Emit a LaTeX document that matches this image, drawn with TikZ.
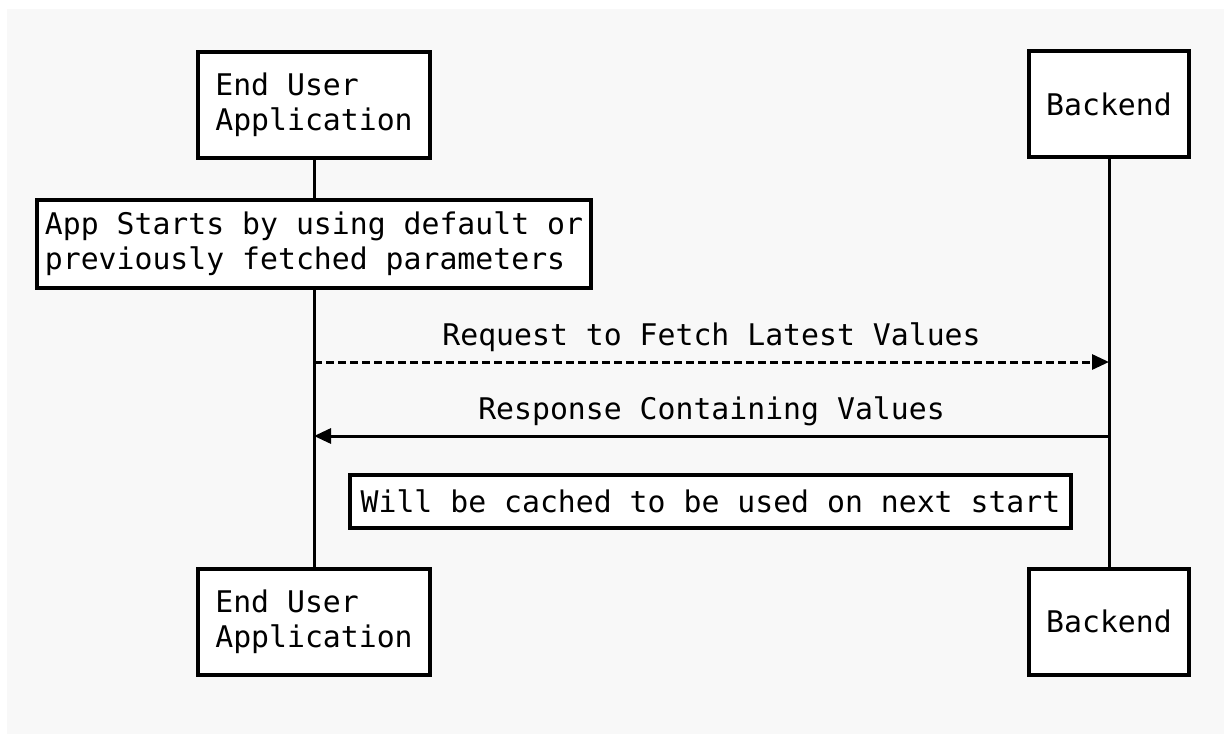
\documentclass[tikz,border=0pt]{standalone}
\usepackage{fontspec}
\setmonofont{DejaVu Sans Mono}
\usetikzlibrary{arrows.meta,backgrounds}
\definecolor{canvas}{HTML}{F8F8F8}

\begin{document}
\begin{tikzpicture}[x=1pt, y=-1pt,
  every node/.style={font=\ttfamily\fontsize{29.8}{35}\selectfont},
  actor/.style={draw, line width=4pt, fill=white, minimum height=106pt, align=left},
  notebox/.style={draw, line width=3.5pt, fill=white, align=left, inner xsep=8pt},
  lifeline/.style={line width=3pt},
  msg/.style={line width=3pt, -{Triangle[length=17pt,width=15pt]}}]
  \useasboundingbox (0,0) rectangle (1224,734);
  % participants
  \node[actor, minimum width=232pt] (app) at (314,105) {End User\\Application};
  \node[actor, minimum width=160pt] (backend) at (1109,104) {Backend};
  \node[actor, minimum width=232pt] (appbot) at (314,621.5) {End User\\Application};
  \node[actor, minimum width=160pt] (backendbot) at (1109,621.5) {Backend};
  % notes
  \node[notebox, minimum width=554pt, minimum height=88pt] (start) at (314,244) {App Starts by using default or\\previously fetched parameters};
  \node[notebox, minimum width=721pt, minimum height=53pt] (cache) at (710.5,501.5) {Will be cached to be used on next start};
  % message ends
  \coordinate (reqA) at (314,362);
  \coordinate (reqB) at (1109,362);
  \coordinate (resA) at (314,436);
  \coordinate (resB) at (1109,436);
  \draw[msg, dash pattern=on 8pt off 4pt] (reqA) -- (reqB) node[midway, yshift=25pt] {Request to Fetch Latest Values};
  \draw[msg] (resB) -- (resA) node[midway, yshift=25pt] {Response Containing Values};
  \begin{scope}[on background layer]
    \fill[white] (0,0) rectangle (1224,734);
    \fill[canvas] (7,9) rectangle (1224,734);
    \draw[lifeline] (app.south) -- (appbot.north);
    \draw[lifeline] (backend.south) -- (backendbot.north);
  \end{scope}
\end{tikzpicture}
\end{document}
